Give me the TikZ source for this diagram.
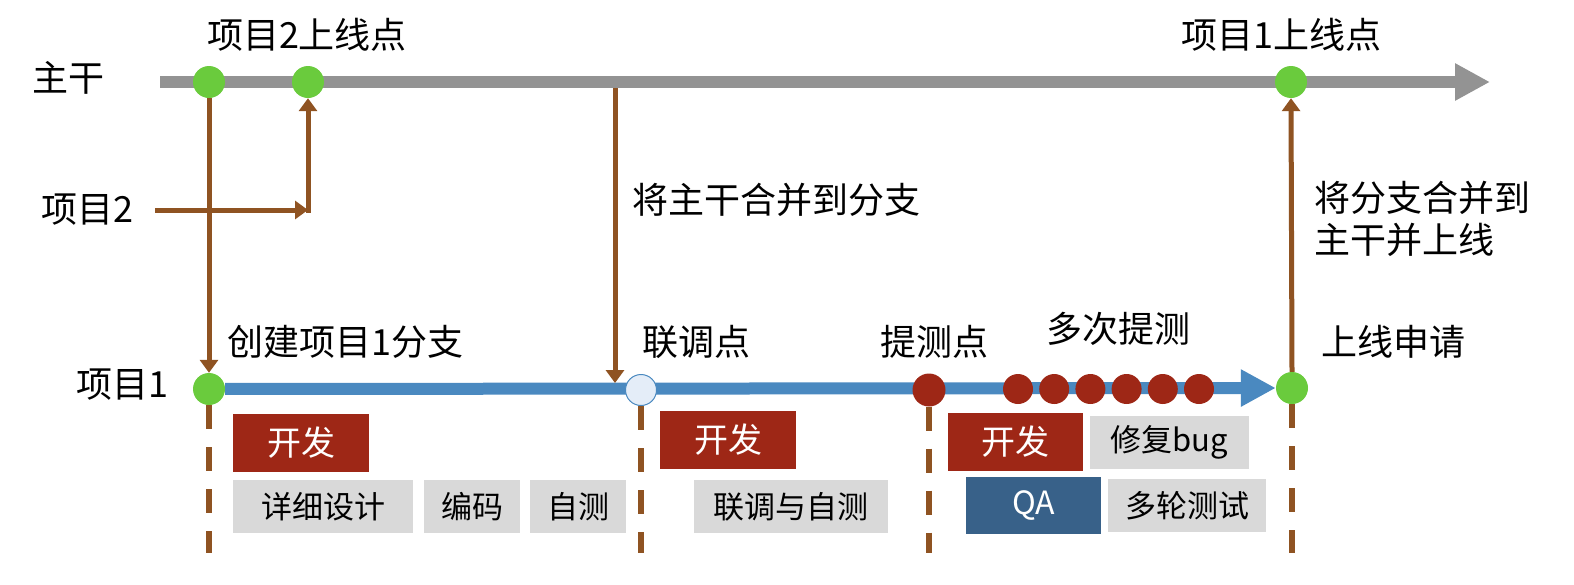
\documentclass[tikz,border=0pt]{standalone}
\usepackage{fontspec}
\setmainfont{Noto Sans CJK SC}
\usetikzlibrary{arrows.meta,backgrounds}
\definecolor{trunkgray}{HTML}{939393}
\definecolor{dotgreen}{HTML}{6ACB3D}
\definecolor{branchblue}{HTML}{4A89C0}
\definecolor{mergebrown}{HTML}{8F5322}
\definecolor{devred}{HTML}{9E2716}
\definecolor{qablue}{HTML}{386189}
\definecolor{taskgray}{HTML}{D9D9D9}
\definecolor{lightdot}{HTML}{E4EDF8}
\tikzset{
  lbl/.style={inner sep=0pt, font=\fontsize{36}{42}\selectfont},
  gdot/.style={circle, fill=dotgreen, minimum size=32pt, inner sep=0pt},
  rdot/.style={circle, fill=devred, minimum size=31pt, inner sep=0pt},
  devbox/.style={fill=devred, text=white, minimum height=58pt, inner sep=0pt,
    font=\fontsize{34}{40}\selectfont},
  taskbox/.style={fill=taskgray, minimum height=53pt, inner sep=0pt,
    font=\fontsize{31}{38}\selectfont},
  qabox/.style={fill=qablue, text=white, minimum height=57pt, inner sep=0pt,
    font=\fontsize{32}{38}\selectfont},
  merge/.style={draw=mergebrown, line width=5pt, -{Triangle[length=13pt,width=18pt]}},
  phase/.style={draw=mergebrown, line width=6pt, dash pattern=on 24pt off 18pt},
}
\begin{document}
\begin{tikzpicture}[x=1pt,y=-1pt]
  \useasboundingbox (0,0) rectangle (1574,584);
  % Trunk and its release points
  \coordinate (trunkstart) at (160,82);
  \coordinate (trunkend) at (1490,82);
  \node[gdot] (t1) at (209,82) {};
  \node[gdot] (t2) at (308,82) {};
  \node[gdot] (t3) at (1291,82) {};
  \node[lbl] (trunklbl) at (68,78) {主干};
  \node[lbl] (t2lbl) at (307,35) {项目2上线点};
  \node[lbl] (t3lbl) at (1281,35) {项目1上线点};
  % Project 1 branch points
  \node[gdot] (b1) at (209,389) {};
  \node[circle, fill=lightdot, draw=branchblue, line width=1pt, minimum size=31pt,
        inner sep=0pt] (b2) at (641,390) {};
  \node[rdot, minimum size=33pt] (b3) at (929,390) {};
  \foreach \i in {0,...,5}
    \node[rdot, minimum size=30pt] (md\i) at (1018+36.2*\i,389) {};
  \node[gdot] (b4) at (1292,388) {};
  \node[lbl] (p1lbl) at (122,385) {项目1};
  \node[lbl] (p2lbl) at (87,210) {项目2};
  % Point labels
  \node[lbl, anchor=west] (createlbl) at (227,342) {创建项目1分支};
  \node[lbl, anchor=west] (jointlbl) at (642,342) {联调点};
  \node[lbl, anchor=west] (testlbl) at (880,342) {提测点};
  \node[lbl, anchor=west] (multilbl) at (1046,329) {多次提测};
  \node[lbl, anchor=west] (applylbl) at (1321,342) {上线申请};
  \node[lbl, anchor=west] (mergelbl) at (632,200) {将主干合并到分支};
  \node[lbl, anchor=west, align=left] (releaselbl) at (1314,219)
    {将分支合并到\\主干并上线};
  % Work items
  \node[devbox, minimum width=136pt] (dev1) at (301,443) {开发};
  \node[taskbox, minimum width=180pt] (design) at (323,506.5) {详细设计};
  \node[taskbox, minimum width=96pt] (coding) at (472,506.5) {编码};
  \node[taskbox, minimum width=96pt] (selftest) at (578,506.5) {自测};
  \node[devbox, minimum width=136pt] (dev2) at (728,439.5) {开发};
  \node[taskbox, minimum width=194pt] (jointtest) at (791,506.5) {联调与自测};
  \node[devbox, minimum width=135pt] (dev3) at (1015.5,442) {开发};
  \node[taskbox, minimum width=159pt] (bugfix) at (1169.5,442.5) {修复bug};
  \node[qabox, minimum width=135pt] (qa) at (1033.5,505.5) {QA};
  \node[taskbox, minimum width=158pt] (rounds) at (1187,505.5) {多轮测试};
  % Phase ends
  \coordinate (d1) at (209,553);
  \coordinate (d2) at (641,553);
  \coordinate (d3) at (929,553);
  \coordinate (d4) at (1292,553);
  \coordinate (mtop) at (615,88);
  \coordinate (mbot) at (615,383);
  \coordinate (p2s) at (155,210);
  \coordinate (p2c) at (308,210);
  \begin{scope}[on background layer]
    \draw[trunkgray, line width=12pt, -{Triangle[length=35pt,width=35pt]}]
      (trunkstart) -- (trunkend);
    \draw[branchblue, line width=12pt, -{Triangle[length=35pt,width=35pt]}]
      (b1) -- (b4.west);
    \draw[phase] (b1.south) -- (d1);
    \draw[phase] (b2.south) -- (d2);
    \draw[phase] (b3.south) -- (d3);
    \draw[phase] (b4.south) -- (d4);
  \end{scope}
  % Merges between trunk and branches
  \draw[merge] (t1.south) -- (b1.north);
  \draw[merge] (mtop) -- (mbot);
  \draw[merge] (p2s) -- (p2c);
  \draw[merge] ([yshift=-2.5pt]p2c) -- (t2.south);
  \draw[merge] (b4.north) -- (t3.south);
\end{tikzpicture}
\end{document}
